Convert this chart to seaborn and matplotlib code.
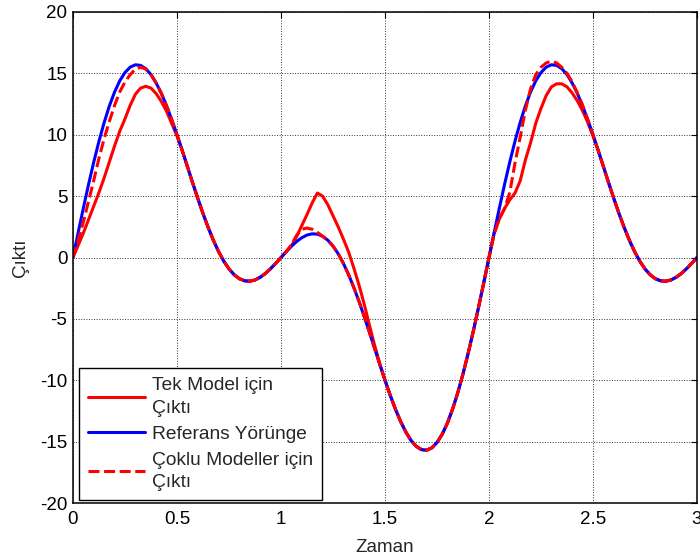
import numpy as np
import pandas as pd
import matplotlib
matplotlib.use("Agg")
import matplotlib.pyplot as plt
import seaborn as sns

# ---------------- data ----------------
t = [0.000, 0.025, 0.050, 0.075, 0.100, 0.125, 0.150, 0.175, 0.200, 0.225,
     0.250, 0.275, 0.300, 0.325, 0.350, 0.375, 0.400, 0.425, 0.450, 0.475,
     0.500, 0.525, 0.550, 0.575, 0.600, 0.625, 0.650, 0.675, 0.700, 0.725,
     0.750, 0.775, 0.800, 0.825, 0.850, 0.875, 0.900, 0.925, 0.950, 0.975,
     1.000, 1.025, 1.050, 1.075, 1.100, 1.125, 1.150, 1.175, 1.200, 1.225,
     1.250, 1.275, 1.300, 1.325, 1.350, 1.375, 1.400, 1.425, 1.450, 1.475,
     1.500, 1.525, 1.550, 1.575, 1.600, 1.625, 1.650, 1.675, 1.700, 1.725,
     1.750, 1.775, 1.800, 1.825, 1.850, 1.875, 1.900, 1.925, 1.950, 1.975,
     2.000, 2.025, 2.050, 2.075, 2.100, 2.125, 2.150, 2.175, 2.200, 2.225,
     2.250, 2.275, 2.300, 2.325, 2.350, 2.375, 2.400, 2.425, 2.450, 2.475,
     2.500, 2.525, 2.550, 2.575, 2.600, 2.625, 2.650, 2.675, 2.700, 2.725,
     2.750, 2.775, 2.800, 2.825, 2.850, 2.875, 2.900, 2.925, 2.950, 2.975,
     3.000]

y_ref = [0.00, 2.04, 4.04, 5.97, 7.79, 9.48, 11.01, 12.35, 13.49, 14.40,
         15.07, 15.51, 15.70, 15.65, 15.38, 14.90, 14.21, 13.36, 12.35, 11.22,
         10.00, 8.72, 7.41, 6.09, 4.81, 3.58, 2.44, 1.40, 0.48, -0.30,
         -0.93, -1.41, -1.73, -1.90, -1.93, -1.83, -1.61, -1.30, -0.91, -0.47,
         0.00, 0.47, 0.91, 1.30, 1.61, 1.83, 1.93, 1.90, 1.73, 1.41,
         0.93, 0.30, -0.48, -1.40, -2.44, -3.58, -4.81, -6.09, -7.41, -8.72,
         -10.00, -11.22, -12.35, -13.36, -14.21, -14.90, -15.38, -15.65, -15.70, -15.51,
         -15.07, -14.40, -13.49, -12.35, -11.01, -9.48, -7.79, -5.97, -4.04, -2.04,
         0.00, 2.04, 4.04, 5.97, 7.79, 9.48, 11.01, 12.35, 13.49, 14.40,
         15.07, 15.51, 15.70, 15.65, 15.38, 14.90, 14.21, 13.36, 12.35, 11.22,
         10.00, 8.72, 7.41, 6.09, 4.81, 3.58, 2.44, 1.40, 0.48, -0.30,
         -0.93, -1.41, -1.73, -1.90, -1.93, -1.83, -1.61, -1.30, -0.91, -0.47,
         0.00]

y_single = [0.00, 1.00, 2.00, 3.10, 4.20, 5.30, 6.50, 7.80, 9.10, 10.30,
            11.30, 12.40, 13.30, 13.80, 13.95, 13.80, 13.35, 12.70, 11.90, 10.90,
            9.90, 8.72, 7.41, 6.09, 4.81, 3.58, 2.44, 1.40, 0.48, -0.30,
            -0.93, -1.41, -1.73, -1.90, -1.93, -1.83, -1.61, -1.30, -0.91, -0.47,
            0.00, 0.47, 0.95, 1.70, 2.60, 3.50, 4.45, 5.25, 5.00, 4.30,
            3.40, 2.50, 1.50, 0.45, -0.85, -2.25, -3.80, -5.50, -7.15, -8.65,
            -10.00, -11.22, -12.35, -13.36, -14.21, -14.90, -15.38, -15.65, -15.70, -15.51,
            -15.07, -14.40, -13.49, -12.35, -11.01, -9.48, -7.79, -5.97, -4.04, -2.04,
            0.00, 2.00, 3.15, 4.00, 4.70, 5.25, 6.25, 7.95, 9.35, 10.95,
            12.15, 13.20, 13.90, 14.15, 14.15, 13.90, 13.40, 12.75, 11.95, 11.00,
            9.90, 8.72, 7.41, 6.09, 4.81, 3.58, 2.44, 1.40, 0.48, -0.30,
            -0.93, -1.41, -1.73, -1.90, -1.93, -1.83, -1.61, -1.30, -0.91, -0.47,
            0.00]

y_multi = [0.00, 1.40, 2.90, 4.60, 6.30, 8.10, 9.70, 11.10, 12.40, 13.50,
           14.30, 14.90, 15.35, 15.50, 15.35, 14.90, 14.21, 13.36, 12.35, 11.22,
           10.00, 8.72, 7.41, 6.09, 4.81, 3.58, 2.44, 1.40, 0.48, -0.30,
           -0.93, -1.41, -1.73, -1.90, -1.93, -1.83, -1.61, -1.30, -0.91, -0.47,
           0.00, 0.47, 1.05, 1.80, 2.30, 2.40, 2.30, 2.05, 1.73, 1.41,
           0.93, 0.30, -0.48, -1.40, -2.44, -3.58, -4.81, -6.09, -7.41, -8.72,
           -10.00, -11.22, -12.35, -13.36, -14.21, -14.90, -15.38, -15.65, -15.70, -15.51,
           -15.07, -14.40, -13.49, -12.35, -11.01, -9.48, -7.79, -5.97, -4.04, -2.04,
           0.00, 1.90, 3.20, 4.00, 5.30, 7.70, 9.80, 12.00, 13.75, 14.90,
           15.50, 15.85, 16.00, 15.85, 15.50, 15.00, 14.30, 13.40, 12.40, 11.22,
           10.00, 8.72, 7.41, 6.09, 4.81, 3.58, 2.44, 1.40, 0.48, -0.30,
           -0.93, -1.41, -1.73, -1.90, -1.93, -1.83, -1.61, -1.30, -0.91, -0.47,
           0.00]

labels = ["Tek Model için\nÇıktı", "Referans Yörünge", "Çoklu Modeller için\nÇıktı"]
x_ticks = [0, 0.5, 1, 1.5, 2, 2.5, 3]
x_ticklabels = ["0", "0.5", "1", "1.5", "2", "2.5", "3"]
y_ticks = [-20, -15, -10, -5, 0, 5, 10, 15, 20]
x_label = "Zaman"
y_label = "Çıktı"

# ---------------- style ----------------
sns.set_style("white")
plt.rcParams["font.family"] = ["Liberation Sans", "DejaVu Sans"]
plt.rcParams["font.size"] = 13.5
plt.rcParams["axes.unicode_minus"] = False

df_single = pd.DataFrame({"t": t, "y": y_single})
df_ref = pd.DataFrame({"t": t, "y": y_ref})
df_multi = pd.DataFrame({"t": t, "y": y_multi})

fig = plt.figure(figsize=(7.0, 5.59), dpi=100)
ax = fig.add_axes([73 / 700, 1 - 503 / 559, 624 / 700, 491 / 559])

lw = 2.2
sns.lineplot(data=df_single, x="t", y="y", ax=ax, color="#ff0000", lw=lw,
             sort=False, estimator=None, label=labels[0])
sns.lineplot(data=df_ref, x="t", y="y", ax=ax, color="#0000ff", lw=lw,
             sort=False, estimator=None, label=labels[1])
sns.lineplot(data=df_multi, x="t", y="y", ax=ax, color="#ff0000", lw=lw,
             sort=False, estimator=None, label=labels[2])
ax.lines[2].set_dashes((3.6, 1.5))

ax.set_xlim(0, 3)
ax.set_ylim(-20, 20)
ax.set_xticks(x_ticks)
ax.set_xticklabels(x_ticklabels)
ax.set_yticks(y_ticks)
ax.set_xlabel(x_label, fontsize=13.5, labelpad=8)
ax.set_ylabel(y_label, fontsize=13.5, labelpad=8)

ax.grid(True, linestyle=":", color="#333333", linewidth=0.7)
ax.tick_params(direction="in", top=True, right=True, length=4, width=0.8,
               labelsize=13.5, colors="black")
ax.tick_params(axis="x", pad=6)
ax.tick_params(axis="y", pad=4)
for s in ax.spines.values():
    s.set_visible(True)
    s.set_color("black")
    s.set_linewidth(1.1)

leg = ax.legend(loc="lower left", bbox_to_anchor=(0.0096, 0.006),
                borderaxespad=0, frameon=True, fancybox=False, shadow=False,
                fontsize=13.8, handlelength=3.0, handletextpad=0.35,
                borderpad=0.45, labelspacing=0.45)
for txt in leg.get_texts():
    txt.set_linespacing(1.45)
leg.get_frame().set_edgecolor("black")
leg.get_frame().set_linewidth(1.0)
leg.get_frame().set_alpha(1.0)
leg.legend_handles[2].set_dashes((3.6, 1.5))

fig.savefig("out.png", dpi=100)
